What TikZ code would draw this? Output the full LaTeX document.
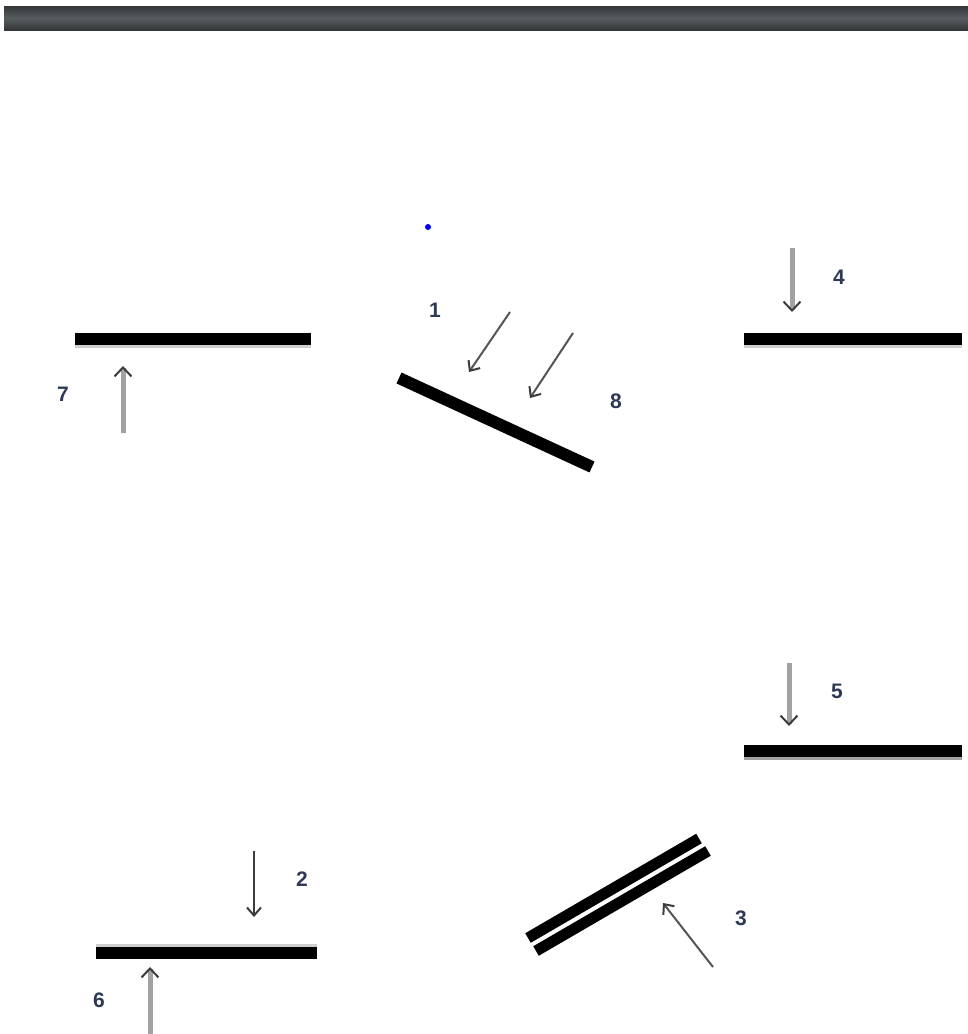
\documentclass[tikz,border=0pt]{standalone}
\usepackage{fontspec}
\setmainfont{Liberation Sans}
\usetikzlibrary{arrows.meta}
\definecolor{lblc}{HTML}{2E3A55}
\definecolor{shaftgray}{HTML}{A2A2A2}
\definecolor{headgray}{HTML}{3C3C3C}
\definecolor{thingray}{HTML}{555555}
\definecolor{barshadow}{HTML}{D0D0D0}
\definecolor{topdark}{HTML}{33373A}
\definecolor{topmid}{HTML}{575C5F}
\tikzset{
  bar/.style={line width=12pt, black},
  barshade/.style={line width=3pt, barshadow},
  thickarrow/.style={line width=5pt, shaftgray, -{Straight Barb[length=9pt,width=17pt,line width=2pt,color=headgray]}},
  thinarrow/.style={line width=2pt, thingray, -{Straight Barb[length=8pt,width=14pt,line width=2pt,color=headgray]}},
  lbl/.style={font=\fontsize{21}{24}\selectfont\bfseries, text=lblc, inner sep=0pt}
}
\begin{document}
\begin{tikzpicture}[x=1pt,y=-1pt]
\useasboundingbox (0,0) rectangle (968,1034);
\fill[white] (0,0) rectangle (968,1034);
% top bar
\shade[top color=topdark, bottom color=topdark, middle color=topmid] (4,6) rectangle (968,30);

% blue dot
\fill[blue] (428,227) circle (3pt);

% bar 7 (top left)
\draw[barshade] (75,346.5) -- (311,346.5);
\draw[bar] (75,339) coordinate (b7l) -- (311,339) coordinate (b7r);
\coordinate (a7s) at (123,433);
\coordinate (a7e) at (123,366);
\draw[thickarrow] (a7s) -- (a7e);
\node[lbl] (l7) at (63,394) {7};

% bar 4 (top right)
\draw[barshade] (744,346.5) -- (962,346.5);
\draw[bar] (744,339) coordinate (b4l) -- (962,339) coordinate (b4r);
\coordinate (a4s) at (792,248);
\coordinate (a4e) at (792,312);
\draw[thickarrow] (a4s) -- (a4e);
\node[lbl] (l4) at (839,277) {4};

% diagonal bar 1/8
\draw[bar] (399,378) coordinate (b1l) -- (592,467) coordinate (b1r);
\coordinate (a1s) at (510,312);
\coordinate (a1e) at (469,372);
\draw[thinarrow] (a1s) -- (a1e);
\coordinate (a8s) at (573,333);
\coordinate (a8e) at (530,398);
\draw[thinarrow] (a8s) -- (a8e);
\node[lbl] (l1) at (435,310) {1};
\node[lbl] (l8) at (616,401) {8};

% bar 5
\draw[line width=3pt, shaftgray] (744,758.5) -- (962,758.5);
\draw[bar] (744,751) coordinate (b5l) -- (962,751) coordinate (b5r);
\coordinate (a5s) at (789,663);
\coordinate (a5e) at (789,726);
\draw[thickarrow] (a5s) -- (a5e);
\node[lbl] (l5) at (837,691) {5};

% double bar 3
\draw[line width=11pt] (528,938) coordinate (b3al) -- (699,838.5) coordinate (b3ar);
\draw[line width=11pt] (536,951) coordinate (b3bl) -- (708,851) coordinate (b3br);
\coordinate (a3s) at (713,967);
\coordinate (a3e) at (663,903);
\draw[thinarrow] (a3s) -- (a3e);
\node[lbl] (l3) at (741,918) {3};

% bar 2/6
\draw[barshade] (96,945.5) -- (317,945.5);
\draw[bar] (96,953) coordinate (b6l) -- (317,953) coordinate (b6r);
\coordinate (a2s) at (254,851);
\coordinate (a2e) at (254,917);
\draw[thinarrow, line width=2.5pt, headgray] (a2s) -- (a2e);
\node[lbl] (l2) at (302,879) {2};
\coordinate (a6s) at (150,1034);
\coordinate (a6e) at (150,967);
\draw[thickarrow] (a6s) -- (a6e);
\node[lbl] (l6) at (99,1000) {6};
\end{tikzpicture}
\end{document}
